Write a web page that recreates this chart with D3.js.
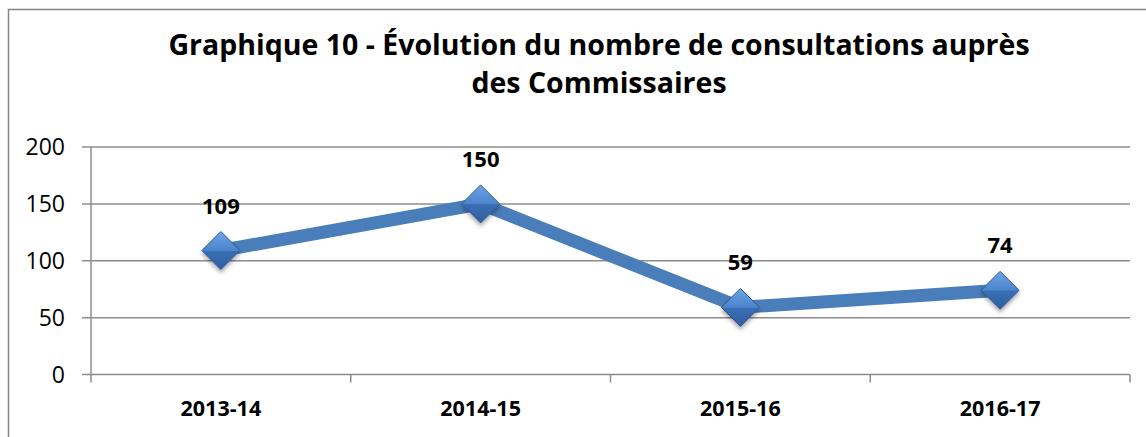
<!DOCTYPE html>
<html><head><meta charset="utf-8">
<script src="https://cdn.jsdelivr.net/npm/d3@7"></script>
<style>body{margin:0;background:#fff}svg{display:block}</style>
</head><body>
<svg id="c" width="1146" height="437"></svg>
<script>
const categories = ["2013-14", "2014-15", "2015-16", "2016-17"];
const values = [109, 150, 59, 74];
const yTicks = [0, 50, 100, 150, 200];
const titleLines = ["Graphique 10 - Évolution du nombre de consultations auprès", "des Commissaires"];

(function () {
const svg = d3.select("#c");
const font = "'Open Sans', Lato, sans-serif";
const pLeft = 91, pRight = 1130, pTop = 147, pBottom = 374.5;

// outer frame
svg.append("path").attr("d", `M8.5,437 L8.5,9.5 L1146,9.5`).attr("fill","none").attr("stroke","#868686").attr("stroke-width",1.5);

const x = d3.scaleBand().domain(categories).range([pLeft, pRight]);
const y = d3.scaleLinear().domain([0, 200]).range([pBottom, pTop]);

const defs = svg.append("defs");
const g1 = defs.append("linearGradient").attr("id","dg").attr("x1",0).attr("y1",0).attr("x2",0).attr("y2",1);
g1.append("stop").attr("offset","0%").attr("stop-color","#6da4e8");
g1.append("stop").attr("offset","50%").attr("stop-color","#4c84cc");
g1.append("stop").attr("offset","51%").attr("stop-color","#3a6fb5");
g1.append("stop").attr("offset","100%").attr("stop-color","#2f5f9e");
const f = defs.append("filter").attr("id","sh").attr("x","-50%").attr("y","-50%").attr("width","200%").attr("height","200%");
f.append("feDropShadow").attr("dx",0).attr("dy",3).attr("stdDeviation",2).attr("flood-color","#000").attr("flood-opacity",0.35);

// gridlines
svg.append("g").selectAll("line").data(yTicks).join("line")
  .attr("x1", pLeft - 9).attr("x2", pRight).attr("y1", d => y(d)).attr("y2", d => y(d))
  .attr("stroke", "#8c8c8c").attr("stroke-width", 1.5);

// y axis line
svg.append("line").attr("x1", pLeft).attr("x2", pLeft).attr("y1", pTop).attr("y2", pBottom + 8)
  .attr("stroke", "#8c8c8c").attr("stroke-width", 1.5);
// x ticks at band boundaries
const bounds = categories.map(c => x(c)).concat([pRight]);
svg.append("g").selectAll("line").data(bounds.slice(1)).join("line")
  .attr("x1", d => d).attr("x2", d => d).attr("y1", pBottom).attr("y2", pBottom + 8)
  .attr("stroke", "#8c8c8c").attr("stroke-width", 1.5);

// y labels
svg.append("g").selectAll("text").data(yTicks).join("text")
  .attr("x", 65).attr("y", d => y(d)).attr("dy", "0.36em").attr("text-anchor", "end")
  .attr("font-family", font).attr("font-size", 23).attr("fill", "#000").text(d => d);

// x labels
svg.append("g").selectAll("text").data(categories).join("text")
  .attr("x", d => x(d) + x.bandwidth() / 2).attr("y", 416).attr("text-anchor", "middle")
  .attr("font-family", font).attr("font-weight", "bold").attr("font-size", 21.5).attr("fill", "#000").text(d => d);

// title
svg.append("g").selectAll("text").data(titleLines).join("text")
  .attr("x", 599).attr("y", (d, i) => 55 + i * 38).attr("text-anchor", "middle")
  .attr("font-family", font).attr("font-weight", "bold").attr("font-size", 28.5).attr("fill", "#000").text(d => d);

const pts = categories.map((c, i) => [x(c) + x.bandwidth() / 2, y(values[i])]);
svg.append("path").attr("d", d3.line()(pts)).attr("fill", "none").attr("stroke", "#4a7ebb")
  .attr("stroke-width", 13).attr("stroke-linejoin", "round");

const s = 19;
svg.append("g").selectAll("path").data(pts).join("path")
  .attr("d", d => `M${d[0]},${d[1]-s} L${d[0]+s},${d[1]} L${d[0]},${d[1]+s} L${d[0]-s},${d[1]} Z`)
  .attr("fill", "url(#dg)").attr("stroke", "#2c5a94").attr("stroke-width", 1).attr("filter", "url(#sh)");

svg.append("g").selectAll("text").data(values).join("text")
  .attr("x", (d, i) => pts[i][0]).attr("y", (d, i) => pts[i][1] - 37).attr("text-anchor", "middle")
  .attr("font-family", font).attr("font-weight", "bold").attr("font-size", 22).attr("fill", "#000").text(d => d);
})();
</script>
</body></html>
